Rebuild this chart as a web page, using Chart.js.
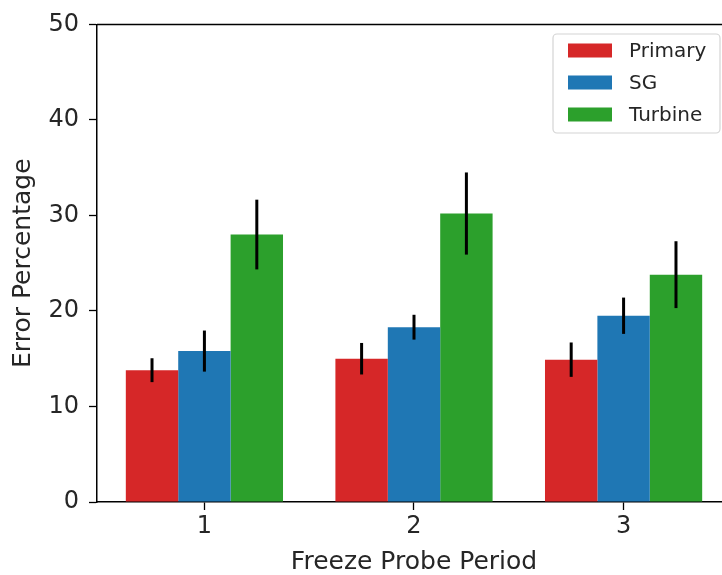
<!DOCTYPE html>
<html>
<head>
<meta charset="utf-8">
<script src="https://cdn.jsdelivr.net/npm/chart.js@4.4.0/dist/chart.umd.min.js"></script>
<style>
  html, body { margin: 0; padding: 0; background: #fff; overflow: hidden; }
  #wrap { position: relative; width: 735px; height: 575px; }
</style>
</head>
<body>
<div id="wrap"><canvas id="myChart"></canvas></div>
<script>
let periods = [1, 2, 3];
let seriesNames = ["Primary", "SG", "Turbine"];
let seriesColors = ["#d62728", "#1f77b4", "#2ca02c"];
let primaryVals = [13.8, 15.0, 14.9];
let sgVals = [15.8, 18.3, 19.5];
let turbineVals = [28.0, 30.2, 23.8];
let primaryErr = [1.25, 1.65, 1.8];
let sgErr = [2.15, 1.3, 1.9];
let turbineErr = [3.65, 4.3, 3.5];
let yTicks = [0, 10, 20, 30, 40, 50];

let allVals = [primaryVals, sgVals, turbineVals];
let allErr = [primaryErr, sgErr, turbineErr];
let font = "'DejaVu Sans', sans-serif";

// error bars, top spine and boxed legend
let extras = {
  id: "extras",
  afterDatasetsDraw: function (chart) {
    const ctx = chart.ctx;
    const y = chart.scales.y;
    ctx.save();
    ctx.strokeStyle = "#000";
    ctx.lineWidth = 3;
    for (let i = 0; i < allVals.length; i++) {
      const meta = chart.getDatasetMeta(i);
      meta.data.forEach(function (bar, j) {
        ctx.beginPath();
        ctx.moveTo(bar.x, y.getPixelForValue(allVals[i][j] - allErr[i][j]));
        ctx.lineTo(bar.x, y.getPixelForValue(allVals[i][j] + allErr[i][j]));
        ctx.stroke();
      });
    }
    ctx.restore();
  },
  afterDraw: function (chart) {
    const ctx = chart.ctx;
    const a = chart.chartArea;
    ctx.save();
    ctx.strokeStyle = "#000";
    ctx.lineWidth = 1.5;
    ctx.beginPath();
    ctx.moveTo(a.left, a.top);
    ctx.lineTo(a.right, a.top);
    ctx.stroke();

    // legend box
    const bx = 553, by = 34, bw = 167, bh = 99;
    ctx.fillStyle = "rgba(255,255,255,0.8)";
    ctx.strokeStyle = "#d4d4d4";
    ctx.lineWidth = 1.2;
    ctx.beginPath();
    ctx.roundRect(bx, by, bw, bh, 4);
    ctx.fill();
    ctx.stroke();
    ctx.font = "20px " + font;
    ctx.textBaseline = "middle";
    chart.data.datasets.forEach(function (ds, i) {
      const cy = 50.5 + i * 32;
      ctx.fillStyle = ds.backgroundColor;
      ctx.fillRect(568, cy - 7, 44, 14);
      ctx.fillStyle = "#262626";
      ctx.fillText(ds.label, 629, cy + 1);
    });
    ctx.restore();
  }
};

let ctx = document.getElementById("myChart").getContext("2d");

const myChart = new Chart(ctx, {
  type: "bar",
  data: {
    datasets: seriesNames.map(function (name, i) {
      return {
        label: name,
        data: periods.map(function (p, j) { return { x: p, y: allVals[i][j] }; }),
        backgroundColor: seriesColors[i],
        borderWidth: 0,
        categoryPercentage: 0.75,
        barPercentage: 1.0
      };
    })
  },
  options: {
    responsive: true,
    maintainAspectRatio: false,
    animation: false,
    layout: { padding: { top: 22, right: 4, bottom: 0, left: 0 } },
    plugins: {
      legend: { display: false },
      tooltip: { enabled: false }
    },
    scales: {
      x: {
        type: "linear",
        offset: false,
        min: 0.4875,
        max: 3.5125,
        afterBuildTicks: function (scale) {
          scale.ticks = periods.map(function (p) { return { value: p }; });
        },
        afterFit: function (scale) { scale.height = 73; },
        grid: { offset: false, drawOnChartArea: false, color: "#000", tickLength: 8, tickWidth: 1.3 },
        border: { display: true, color: "#000", width: 1.5 },
        ticks: {
          color: "#262626",
          font: { family: font, size: 24 },
          padding: 2,
          maxRotation: 0
        },
        title: {
          display: true,
          text: "Freeze Probe Period",
          color: "#262626",
          font: { family: font, size: 25, lineHeight: 1.0 },
          padding: { top: 0, bottom: 0 }
        }
      },
      y: {
        min: 0,
        max: 50,
        afterBuildTicks: function (scale) {
          scale.ticks = yTicks.map(function (v) { return { value: v }; });
        },
        afterFit: function (scale) { scale.width = 97; },
        grid: { drawOnChartArea: false, color: "#000", tickLength: 8, tickWidth: 1.3 },
        border: { display: true, color: "#000", width: 1.5 },
        ticks: {
          color: "#262626",
          font: { family: font, size: 24 },
          padding: 10
        },
        title: {
          display: true,
          text: "Error Percentage",
          color: "#262626",
          font: { family: font, size: 25, lineHeight: 1.2 },
          padding: { top: 8, bottom: 0 }
        }
      }
    }
  },
  plugins: [extras]
});
</script>
</body>
</html>
